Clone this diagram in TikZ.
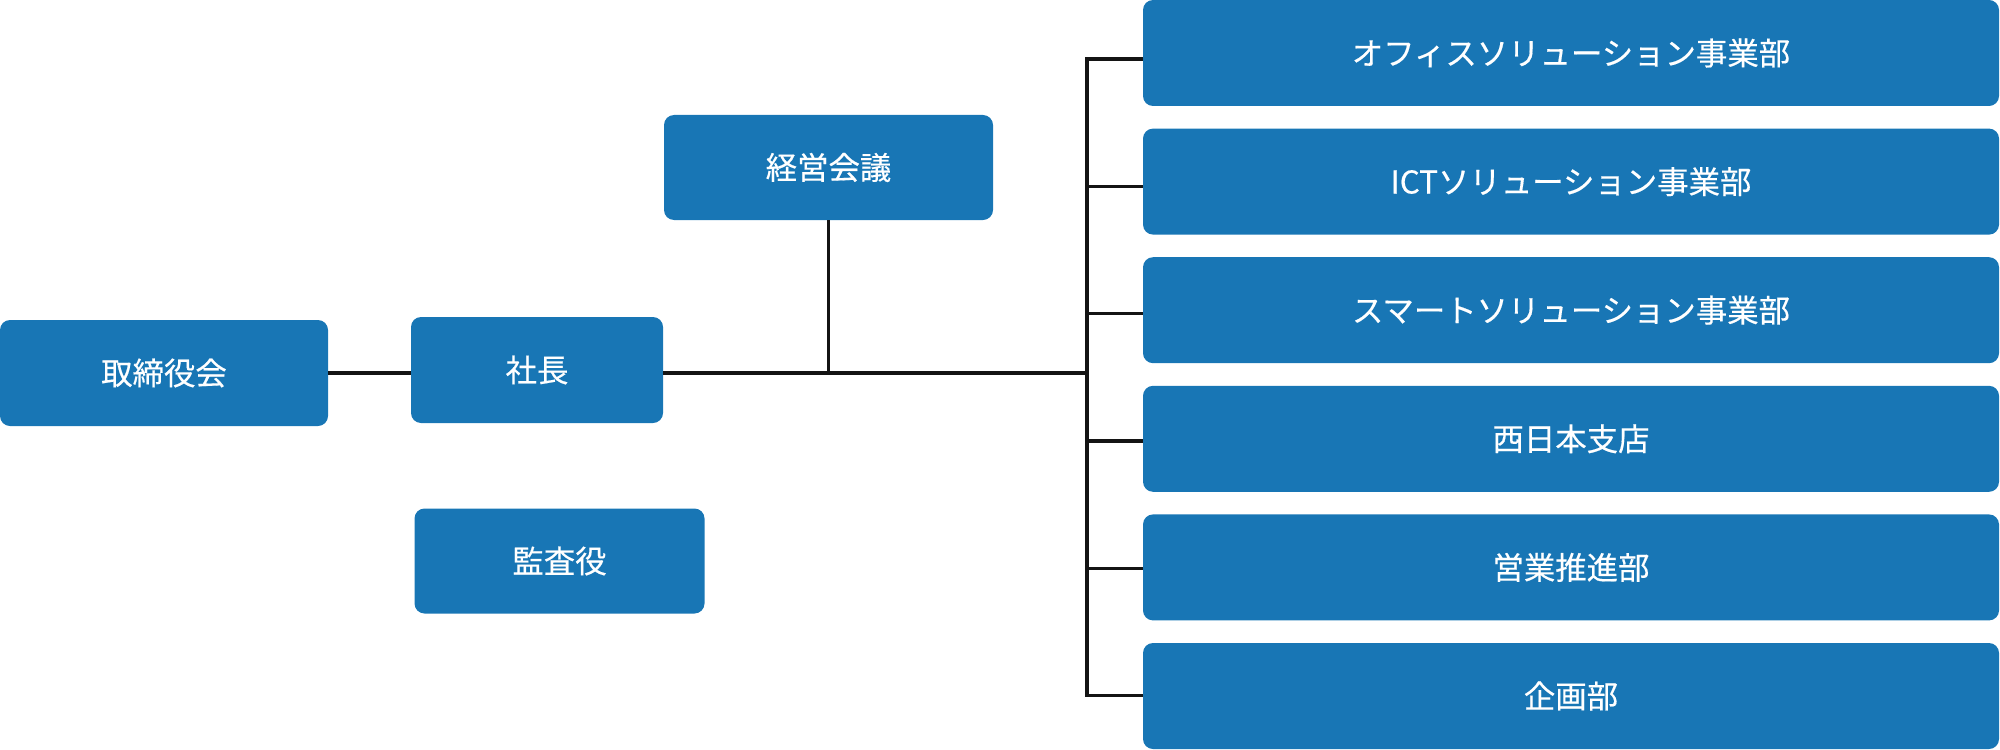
\documentclass[tikz,border=0pt]{standalone}
\usepackage{fontspec}
\newfontfamily\jp[FakeBold=0.4]{Noto Sans CJK JP}
\definecolor{boxblue}{RGB}{24,118,181}
\definecolor{linecol}{RGB}{20,20,20}
\begin{document}
\begin{tikzpicture}[x=0.5pt,y=-0.5pt,
  orgbox/.style={rectangle, rounded corners=5pt, fill=boxblue, draw=none,
    text=white, font=\jp\fontsize{15.7}{19}\selectfont, inner sep=0pt},
  conn/.style={draw=linecol, line width=1.7pt}]
\useasboundingbox (0,0) rectangle (2000,749);
% left side
\node[orgbox, minimum width=164pt, minimum height=53pt] (tori) at (164,373) {取締役会};
\node[orgbox, minimum width=126pt, minimum height=53pt] (shacho) at (537,370) {社長};
\node[orgbox, minimum width=164.5pt, minimum height=52.5pt] (keiei) at (828.5,167.5) {経営会議};
\node[orgbox, minimum width=145pt, minimum height=52.5pt] (kansa) at (559.5,561) {監査役};
% right side
\foreach \k/\t in {0/オフィスソリューション事業部,1/ICTソリューション事業部,2/スマートソリューション事業部,3/西日本支店,4/営業推進部,5/企画部}{
  \node[orgbox, minimum width=428pt, minimum height=53pt] (b\k) at (1571,{53+128.6*\k}) {\t};
}
% connectors
\coordinate (t) at (1087,373);
\coordinate (j) at (keiei.south |- t);
\draw[conn] (tori.east |- t) -- (shacho.west |- t);
\draw[conn] (shacho.east |- t) -- (t);
\draw[conn] (keiei.south) -- (j);
\foreach \k in {0,...,5}{
  \coordinate (r\k) at (1087,{59+127.33*\k});
  \draw[conn] (r\k) -- (r\k -| b\k.west);
}
\draw[conn, line cap=rect] (r0) -- (r5);
\end{tikzpicture}
\end{document}
